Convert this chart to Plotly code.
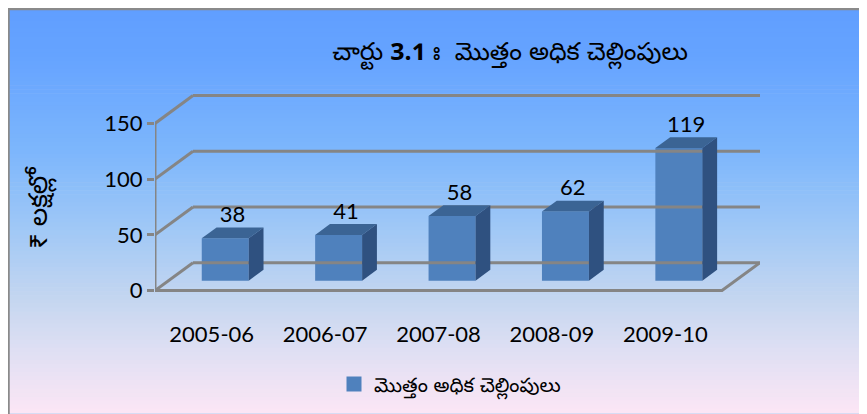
import plotly.graph_objects as go

# ---------------- data ----------------
categories = ["2005-06", "2006-07", "2007-08", "2008-09", "2009-10"]
values = [38, 41, 58, 62, 119]
y_ticks = [0, 50, 100, 150]
series_name = "మొత్తం అధిక చెల్లింపులు"
title_text = "చార్టు <b>3.1</b>\u00a0ః  మొత్తం అధిక చెల్లింపులు"
y_title = "₹ లక్షల్లో"

# ---------------- geometry / style ----------------
OFF = 8                      # page body margin
W, H = 867 - OFF, 414 - OFF
ML, MR, MT, MB = 147, 107, 82, 118
DX, DY = 0.335, 25.0          # wall depth in x / y data units
F0, BF = 0.356, 0.39          # bar front plane fraction, bar depth fraction
BAR_W = 0.414
XR = [-0.5, len(categories) - 0.5 + DX]
YR = [-4, 180]
GRID = "#858585"
FRONT, TOP, SIDE = "#4F81BD", "#3B6494", "#2F5180"
NUM_FONT = "Lato, 'Open Sans', sans-serif"
TEL_FONT = "'Noto Sans Telugu', 'Noto Sans', sans-serif"

PW = W - ML - MR
PH = H - MT - MB

def px_x(p):   # screen px -> paper
    return (p - OFF - ML) / PW

def px_y(p):
    return (H - MB - (p - OFF)) / PH

fig = go.Figure()

# gridlines / walls (computed from tick values)
x_left, x_right = -0.5, len(categories) - 0.5
gx, gy = [], []
for t in y_ticks:
    gx += [x_left + DX, x_right + DX, None, x_left, x_left + DX, None]
    gy += [t + DY, t + DY, None, t, t + DY, None]
gx += [x_left, x_left, None, x_left, x_right, x_right + DX, None]
gy += [y_ticks[0], y_ticks[-1], None, 0, 0, DY, None]
fig.add_trace(go.Scatter(x=gx, y=gy, mode="lines", line=dict(color=GRID, width=3),
                         hoverinfo="skip", showlegend=False))

# bars
bdx, bdy = BF * DX, BF * DY
base = F0 * DY
bx = [i + F0 * DX for i in range(len(categories))]
fig.add_trace(go.Bar(x=bx, y=values, base=[base] * len(values), width=BAR_W,
                     marker=dict(color=FRONT, line=dict(width=0)),
                     name=series_name, showlegend=False))
for xc, v in zip(bx, values):
    x0, x1 = xc - BAR_W / 2, xc + BAR_W / 2
    top = base + v
    fig.add_trace(go.Scatter(x=[x0, x1, x1 + bdx, x0 + bdx, x0],
                             y=[top, top, top + bdy, top + bdy, top],
                             fill="toself", fillcolor=TOP, mode="lines",
                             line=dict(width=0, color=TOP), hoverinfo="skip", showlegend=False))
    fig.add_trace(go.Scatter(x=[x1, x1, x1 + bdx, x1 + bdx, x1],
                             y=[base, top, top + bdy, base + bdy, base],
                             fill="toself", fillcolor=SIDE, mode="lines",
                             line=dict(width=0, color=SIDE), hoverinfo="skip", showlegend=False))

# legend entry
fig.add_trace(go.Scatter(x=[None], y=[None], mode="markers", name=series_name,
                         marker=dict(symbol="square", size=15, color=FRONT), showlegend=True))

# data labels
fig.add_trace(go.Scatter(x=[xc + bdx / 2 for xc in bx],
                         y=[base + v + bdy for v in values],
                         mode="text", text=[str(v) for v in values],
                         textposition="top center",
                         textfont=dict(family=NUM_FONT, size=22, color="black"),
                         hoverinfo="skip", showlegend=False))

# background gradient (strips) + border
stops = [(8, (96, 158, 255)), (60, (102, 164, 255)), (150, (124, 182, 252)),
         (230, (160, 200, 246)), (300, (196, 214, 240)), (350, (222, 223, 243)),
         (414, (252, 230, 245))]

def col_at(p):
    for (p0, c0), (p1, c1) in zip(stops[:-1], stops[1:]):
        if p0 <= p <= p1:
            t = (p - p0) / (p1 - p0)
            return "rgb(%d,%d,%d)" % tuple(round(a + (b - a) * t) for a, b in zip(c0, c1))
    return "rgb(%d,%d,%d)" % stops[-1][1]

shapes = []
N = 100
y_start = OFF
step = (414 - y_start) / N
for k in range(N):
    p0 = y_start + k * step
    p1 = p0 + step + 0.6
    shapes.append(dict(type="rect", xref="paper", yref="paper", layer="below",
                       x0=px_x(OFF), x1=px_x(880), y0=px_y(min(p1, 420)), y1=px_y(p0),
                       fillcolor=col_at(p0 + step / 2), line=dict(width=0)))
shapes.append(dict(type="line", xref="paper", yref="paper", layer="below",
                   x0=px_x(OFF + 0.5), x1=px_x(OFF + 0.5), y0=px_y(OFF), y1=px_y(420),
                   line=dict(color="#8A8A8A", width=2.5)))
shapes.append(dict(type="line", xref="paper", yref="paper", layer="below",
                   x0=px_x(OFF), x1=px_x(880), y0=px_y(OFF + 0.5), y1=px_y(OFF + 0.5),
                   line=dict(color="#8A8A8A", width=2.5)))

fig.update_layout(
    width=W, height=H,
    margin=dict(l=ML, r=MR, t=MT, b=MB),
    paper_bgcolor="rgb(215,220,244)", plot_bgcolor="rgba(0,0,0,0)",
    shapes=shapes,
    title=dict(text=title_text, x=(510 - OFF) / W, xref="container", xanchor="center",
               y=1 - (51 - OFF) / H, yref="container", yanchor="middle",
               font=dict(family=TEL_FONT, size=25, color="black")),
    xaxis=dict(range=XR, tickvals=list(range(len(categories))), ticktext=categories,
               showgrid=False, zeroline=False, showline=False, automargin=False,
               ticks="outside", ticklen=20, tickcolor="rgba(0,0,0,0)",
               tickfont=dict(family=NUM_FONT, size=22, color="black")),
    yaxis=dict(range=YR, tickvals=y_ticks, showgrid=False, zeroline=False, showline=False,
               automargin=False,
               ticks="outside", ticklen=7, tickwidth=3, tickcolor=GRID,
               tickfont=dict(family=NUM_FONT, size=22, color="black")),
    barmode="overlay",
    legend=dict(orientation="h", x=px_x(450), xanchor="center", y=px_y(384), yanchor="middle",
                font=dict(family=TEL_FONT, size=20, color="black"),
                bgcolor="rgba(0,0,0,0)"),
    annotations=[dict(text=y_title, xref="paper", yref="paper", x=px_x(42), y=px_y(208),
                      textangle=-90, showarrow=False, xanchor="center", yanchor="middle",
                      font=dict(family=TEL_FONT, size=26, color="black"))],
)

fig.write_html("out.html",
               post_script="document.documentElement.style.overflow='hidden';"
                           "document.body.style.overflow='hidden';")
